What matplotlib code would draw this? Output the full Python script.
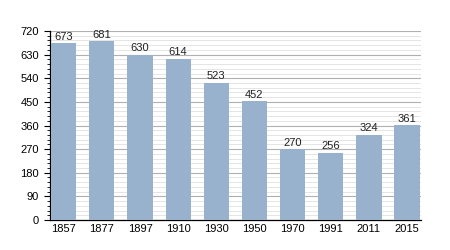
import matplotlib
matplotlib.use("Agg")
import matplotlib.pyplot as plt
from matplotlib.ticker import MultipleLocator

years = ["1857", "1877", "1897", "1910", "1930", "1950", "1970", "1991", "2011", "2015"]
population = [673, 681, 630, 614, 523, 452, 270, 256, 324, 361]
yticks = [0, 90, 180, 270, 360, 450, 540, 630, 720]

plt.rcParams['font.family'] = ['Liberation Sans', 'DejaVu Sans']

fig = plt.figure(figsize=(4.5, 2.5), dpi=100)
ax = fig.add_axes([0.111, 0.12, 0.825, 0.756])

x = list(range(len(years)))
ax.bar(x, population, width=0.66, color="#98B2CE", zorder=3)
for xi, v in zip(x, population):
    ax.text(xi, v + 6, str(v), ha="center", va="bottom", fontsize=8, color="#222222", zorder=4)

ax.set_xlim(-0.36, len(years) - 1 + 0.37)
ax.set_ylim(0, 720)
ax.set_xticks(x)
ax.set_xticklabels(years, fontsize=8)
ax.set_yticks(yticks)
ax.set_yticklabels([str(t) for t in yticks], fontsize=8)
ax.yaxis.set_minor_locator(MultipleLocator(18))
ax.grid(axis="y", which="major", color="#b0b0b0", linewidth=0.8, zorder=0)
ax.grid(axis="y", which="minor", color="#e0e0e0", linewidth=0.6, zorder=0)
ax.tick_params(axis="x", length=0, pad=3)
ax.tick_params(axis="y", which="major", length=4, width=0.8, pad=4)
ax.tick_params(axis="y", which="minor", length=2, width=0.6)
for s in ["top", "right"]:
    ax.spines[s].set_visible(False)
ax.spines["left"].set_linewidth(0.9)
ax.spines["bottom"].set_linewidth(0.9)

fig.savefig("out.png", dpi=100)
